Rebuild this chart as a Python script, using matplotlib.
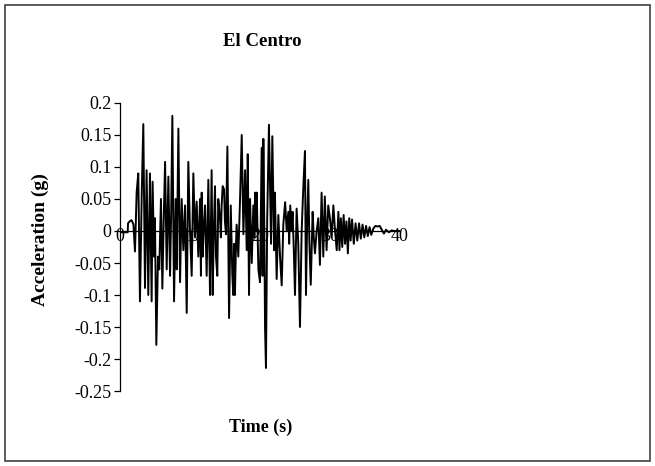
import numpy as np
import matplotlib
matplotlib.use('Agg')
import matplotlib.pyplot as plt
from matplotlib.patches import Rectangle

# peak / trough points (time in s, acceleration in g)
time_s = [
    0.00, 0.09, 1.10, 1.15, 1.37, 1.65, 1.92, 2.14, 2.27, 2.38, 2.61, 2.85, 3.11, 3.33, 3.57, 3.80,
    4.04, 4.28, 4.52, 4.66, 4.86, 4.99, 5.19,
    5.43, 5.61, 5.85, 6.05, 6.25, 6.44, 6.67, 6.91, 7.15, 7.31, 7.48, 7.72, 7.95, 8.10, 8.34, 8.58,
    8.81, 9.05, 9.29, 9.53, 9.76, 10.00, 10.24, 10.48, 10.72, 10.95, 11.19, 11.43, 11.56, 11.67, 11.81,
    11.98, 12.14, 12.38, 12.62, 12.86, 13.09, 13.24, 13.40, 13.57, 13.71, 13.90, 14.04, 14.28, 14.41,
    14.52, 14.67, 14.87, 14.99, 15.14, 15.34, 15.58, 15.82, 16.05, 16.18, 16.31, 16.42, 16.55, 16.66,
    16.90, 17.15, 17.39, 17.63, 17.87, 18.10, 18.25,
    18.43, 18.58, 18.82, 19.05, 19.20, 19.29, 19.42, 19.53, 19.77, 20.00, 20.24, 20.37, 20.48, 20.61,
    20.72, 20.85, 21.03, 21.28, 21.58, 21.76, 22.02, 22.13, 22.38, 22.62, 22.86, 23.10, 23.33, 23.59,
    23.81, 24.05, 24.17, 24.32, 24.50, 24.65,
    24.83, 25.00, 25.23, 25.47, 25.71, 25.95, 26.19, 26.42, 26.57, 26.73, 26.90, 27.06, 27.25, 27.52,
    27.68, 27.85, 28.09, 28.33, 28.56, 28.80, 29.04, 29.26, 29.51, 29.75, 29.99, 30.23, 30.48, 30.72,
    30.96, 31.20,
    31.35, 31.55, 31.75, 31.95, 32.15, 32.35, 32.55, 32.75, 32.95, 33.15, 33.40, 33.65, 33.90, 34.15,
    34.40, 34.65, 34.90, 35.15, 35.40, 35.65, 35.90, 36.20, 36.50, 36.80, 37.10, 37.40, 37.70, 38.00,
    38.40, 38.80, 39.20, 40.00,
]
accel_g = [
    0.000, -0.002, -0.002, 0.012, 0.015, 0.017, 0.010, -0.032, 0.020, 0.061, 0.090, -0.110, 0.060, 0.167, -0.089, 0.095,
    -0.100, 0.090, -0.110, 0.077, -0.040, 0.020, -0.178,
    -0.040, -0.060, 0.050, -0.090, 0.020, 0.108, -0.060, 0.085, -0.070, 0.030, 0.180, -0.110, 0.050, -0.060, 0.160, -0.080,
    0.050, -0.030, 0.040, -0.128, 0.108, 0.000, -0.070, 0.090, -0.010, 0.046, -0.040, 0.050, -0.070, 0.060, -0.040,
    0.010, 0.040, -0.070, 0.080, -0.100, 0.095, -0.100, 0.000, 0.070, -0.040, -0.070, 0.050, 0.020, -0.010,
    0.040, 0.070, 0.065, 0.015, -0.005, 0.132, -0.136, 0.040, -0.070, -0.100, -0.020, -0.100, -0.030, 0.010,
    -0.040, 0.050, 0.150, -0.005, 0.095, -0.030, 0.120,
    -0.100, 0.050, -0.050, 0.040, -0.010, 0.060, 0.000, 0.060, -0.060, -0.080, 0.130, -0.070, 0.144, 0.010,
    -0.150, -0.214, 0.020, 0.166, -0.020, 0.148, -0.030, 0.060, -0.075, 0.025, -0.040, -0.085, 0.010, 0.045,
    0.000, 0.030, -0.020, 0.040, 0.000, 0.030,
    -0.030, -0.100, 0.035, -0.020, -0.150, 0.000, 0.069, 0.125, -0.100, 0.010, 0.080, -0.020, -0.084, 0.030,
    -0.010, -0.035, 0.000, 0.020, -0.053, 0.060, -0.040, 0.054, -0.030, 0.040, 0.020, -0.010, 0.040, 0.000,
    -0.030, 0.030,
    -0.030, 0.020, -0.025, 0.025, -0.020, 0.015, -0.035, 0.020, -0.015, 0.018, -0.020, 0.012, -0.015, 0.012,
    -0.012, 0.010, -0.010, 0.008, -0.008, 0.006, -0.006, 0.004, 0.008, 0.007, 0.008, 0.002, -0.004, 0.002,
    -0.002, 0.001, 0.000, 0.000,
]

x_ticks = [0, 10, 20, 30, 40]
y_ticks = [0.2, 0.15, 0.1, 0.05, 0, -0.05, -0.1, -0.15, -0.2, -0.25]
y_labels = ['0.2', '0.15', '0.1', '0.05', '0', '-0.05', '-0.1', '-0.15', '-0.2', '-0.25']

plt.rcParams['font.family'] = ['Liberation Serif', 'DejaVu Serif']
plt.rcParams['axes.unicode_minus'] = False

W, H = 655, 466
fig = plt.figure(figsize=(W / 100, H / 100), dpi=100)
ax = fig.add_axes([120 / W, 75 / H, 280 / W, 288 / H])

ax.plot(time_s, accel_g, color='black', lw=1.4, zorder=3)

ax.set_xlim(0, 40)
ax.set_ylim(-0.25, 0.2)
ax.spines['top'].set_visible(False)
ax.spines['right'].set_visible(False)
ax.spines['bottom'].set_position(('data', 0))
ax.spines['left'].set_linewidth(0.9)
ax.spines['bottom'].set_linewidth(0.9)

ax.set_xticks(x_ticks)
ax.set_yticks(y_ticks)
ax.set_yticklabels(y_labels)
ax.tick_params(axis='y', direction='out', length=4, width=0.9, pad=2, labelsize=13)
ax.tick_params(axis='x', direction='out', length=0, width=0.9, pad=-2, labelsize=13)

fig.text(262 / W, 1 - 42 / H, 'El Centro', ha='center', va='center',
         fontsize=13.5, fontweight='bold')
fig.text(261 / W, 1 - 427 / H, 'Time (s)', ha='center', va='center',
         fontsize=13, fontweight='bold')
fig.text(40 / W, 1 - 240 / H, 'Acceleration (g)', ha='center', va='center',
         rotation=90, fontsize=14, fontweight='bold')

fig.patches.append(Rectangle((5 / W, 5 / H), 645 / W, 456 / H, transform=fig.transFigure,
                             fill=False, edgecolor='#404040', lw=1.2))

fig.savefig('out.png', dpi=100)
